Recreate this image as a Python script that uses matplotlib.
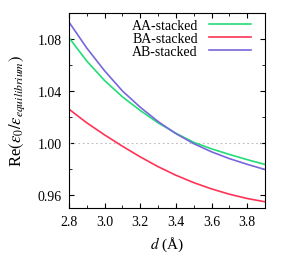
import numpy as np
import matplotlib
matplotlib.use('Agg')
import matplotlib.pyplot as plt

# interlayer distance (Angstrom)
d = [2.8, 2.9, 3.0, 3.1, 3.2, 3.3, 3.4, 3.5, 3.6, 3.7, 3.8, 3.9]

# Re(eps0 / eps_equilibrium)
aa = [1.081, 1.063, 1.048, 1.0355, 1.025, 1.0155, 1.0075, 1.0005, 0.9955, 0.9912, 0.9872, 0.9835]
ba = [1.026, 1.0155, 1.0062, 0.9975, 0.9893, 0.9818, 0.9752, 0.9695, 0.9647, 0.9606, 0.9573, 0.9548]
ab = [1.093, 1.073, 1.0555, 1.040, 1.0275, 1.0165, 1.0072, 0.9995, 0.9932, 0.9880, 0.9836, 0.9796]

xticks = [2.8, 3.0, 3.2, 3.4, 3.6, 3.8]
yticks = [0.96, 1.00, 1.04, 1.08]

plt.rcParams['font.family'] = 'Liberation Serif'
plt.rcParams['mathtext.fontset'] = 'stix'

fig = plt.figure(figsize=(2.91, 2.55), dpi=100)
ax = fig.add_axes([69 / 291, 1 - 209 / 255, 196 / 291, 195 / 255])

ax.axhline(1.0, color='#bbbbbb', lw=0.8, ls=(0, (1.5, 2.5)))
ax.plot(d, aa, color='#22dd77', lw=1.2, label='AA-stacked')
ax.plot(d, ba, color='#ff3355', lw=1.2, label='BA-stacked')
ax.plot(d, ab, color='#7766dd', lw=1.2, label='AB-stacked')

ax.set_xlim(2.8, 3.9)
ax.set_ylim(0.95, 1.10)
ax.set_xticks(xticks, ['%.1f' % t for t in xticks])
ax.set_xticks(np.arange(2.9, 3.9, 0.2), minor=True)
ax.set_yticks(yticks, ['%.2f' % t for t in yticks])
ax.set_yticks([0.98, 1.02, 1.06, 1.10], minor=True)
ax.tick_params(which='both', direction='in', top=True, right=True, labelsize=10)
ax.tick_params(which='major', length=3.5, pad=5)
ax.tick_params(which='minor', length=2)

ax.set_xlabel(r'$d$ (Å)', fontsize=11, labelpad=5)
ax.set_ylabel(r'Re$(\varepsilon_0/\varepsilon_{equilibrium})$', fontsize=12, labelpad=8)

ax.legend(loc='upper right', frameon=False, markerfirst=False, fontsize=10,
          handlelength=3.0, labelspacing=0.02, borderaxespad=0.0, handletextpad=0.8,
          bbox_to_anchor=(0.955, 1.0))

fig.savefig('out.png', dpi=100)
